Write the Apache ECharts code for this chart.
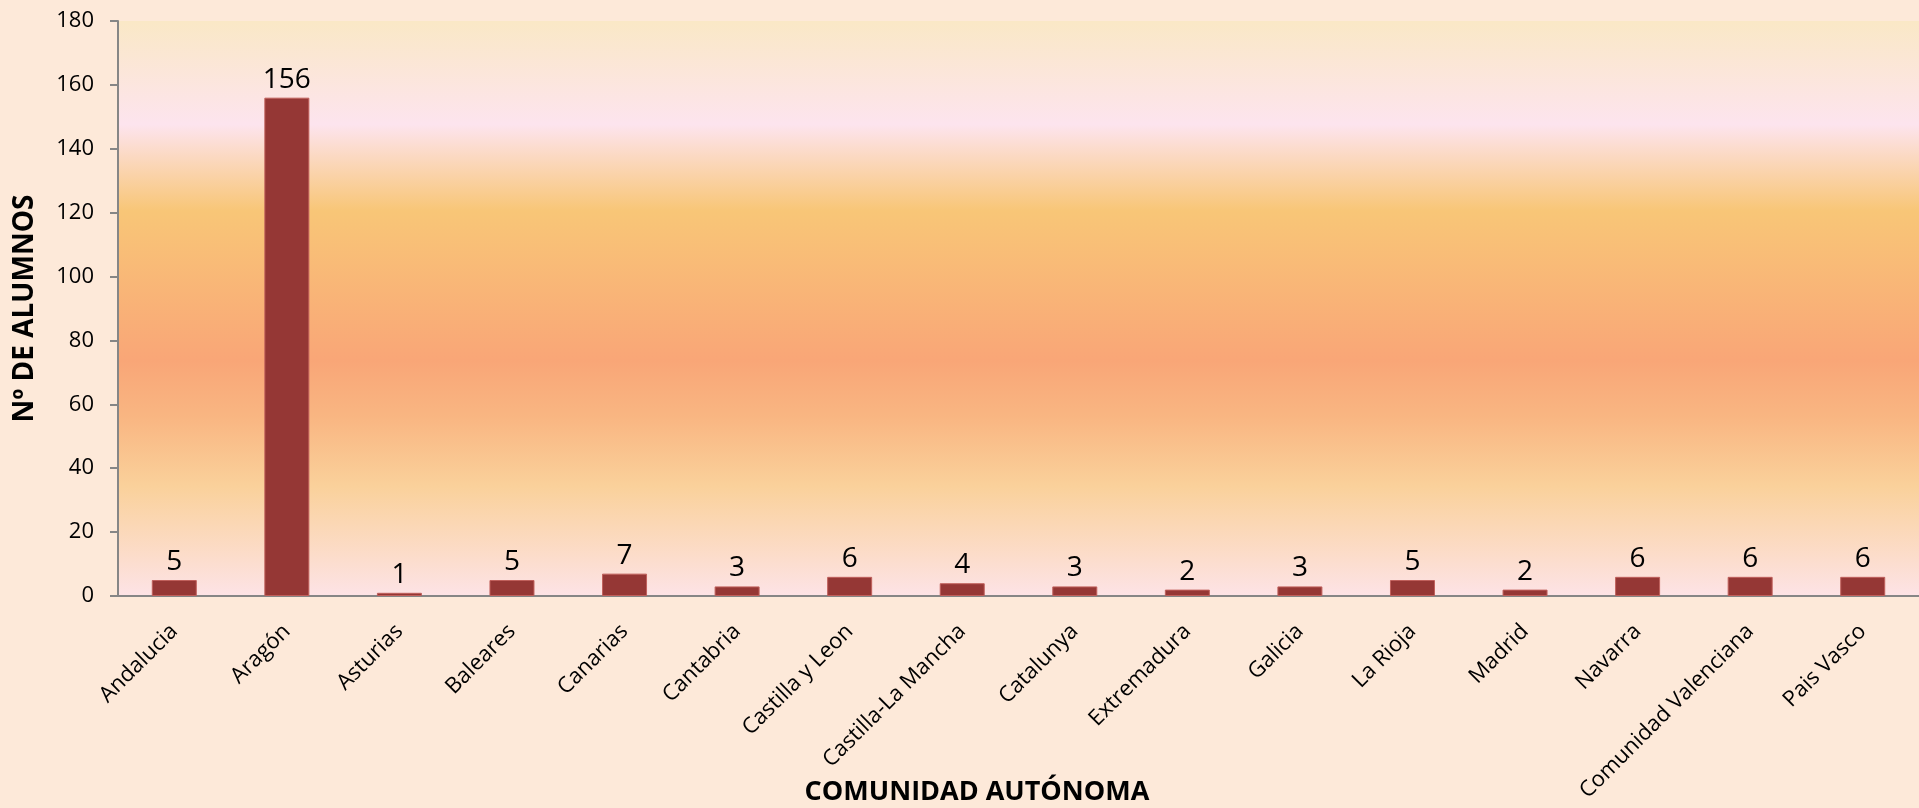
<!DOCTYPE html>
<html>
<head>
<meta charset="utf-8">
<title>Alumnos por comunidad autónoma</title>
<script src="https://cdn.jsdelivr.net/npm/echarts@6/dist/echarts.min.js"></script>
<style>
  html, body { margin: 0; padding: 0; background: #fde9d9; }
  #chart { width: 1919px; height: 808px; }
</style>
</head>
<body>
<div id="chart"></div>
<script>
const comunidades = [
  'Andalucia', 'Aragón', 'Asturias', 'Baleares', 'Canarias', 'Cantabria',
  'Castilla y Leon', 'Castilla-La Mancha', 'Catalunya', 'Extremadura',
  'Galicia', 'La Rioja', 'Madrid', 'Navarra', 'Comunidad Valenciana', 'Pais Vasco'
];
const alumnos = [5, 156, 1, 5, 7, 3, 6, 4, 3, 2, 3, 5, 2, 6, 6, 6];

const font = '"Open Sans"';

const chart = echarts.init(document.getElementById('chart'));

// plot area fill, like the office chart gradient
const plotFill = new echarts.graphic.LinearGradient(0, 0, 0, 1, [
  { offset: 0, color: '#fae8c6' },
  { offset: 0.18, color: '#fde4ee' },
  { offset: 0.33, color: '#f8c677' },
  { offset: 0.59, color: '#f9a677' },
  { offset: 0.69, color: '#f9b682' },
  { offset: 0.81, color: '#fad19b' },
  { offset: 1, color: '#fde3e6' }
]);

chart.setOption({
  backgroundColor: '#fde9d9',
  animation: false,
  textStyle: { fontFamily: font },
  grid: {
    left: 118,
    top: 21,
    width: 1816,
    bottom: 212,
    show: true,
    backgroundColor: plotFill,
    borderWidth: 0
  },
  xAxis: {
    type: 'category',
    data: comunidades,
    axisLine: { lineStyle: { color: '#868686', width: 2 } },
    axisTick: { length: 8, lineStyle: { color: '#868686', width: 2 } },
    axisLabel: {
      rotate: 45,
      margin: 32,
      color: '#000',
      fontSize: 22,
      fontFamily: font,
      interval: 0
    }
  },
  yAxis: {
    type: 'value',
    min: 0,
    max: 180,
    interval: 20,
    name: 'Nº DE ALUMNOS',
    nameLocation: 'middle',
    nameGap: 79,
    nameTextStyle: { color: '#000', fontSize: 28, fontWeight: 'bold', fontFamily: font },
    splitLine: { show: false },
    axisLine: { show: true, lineStyle: { color: '#868686', width: 2 } },
    axisTick: { show: true, length: 8, lineStyle: { color: '#868686', width: 2 } },
    axisLabel: { color: '#000', fontSize: 22, margin: 24, fontFamily: font }
  },
  graphic: [{
    type: 'text',
    x: 977,
    y: 792,
    style: {
      text: 'COMUNIDAD AUTÓNOMA',
      fill: '#000',
      font: 'bold 27px ' + font,
      align: 'center',
      verticalAlign: 'middle'
    }
  }],
  series: [{
    type: 'bar',
    data: alumnos,
    barWidth: 45,
    itemStyle: { color: '#953735', borderColor: '#c0605c', borderWidth: 1 },
    label: {
      show: true,
      position: 'top',
      distance: 4,
      color: '#000',
      fontSize: 28,
      fontFamily: font
    }
  }]
});
</script>
</body>
</html>
